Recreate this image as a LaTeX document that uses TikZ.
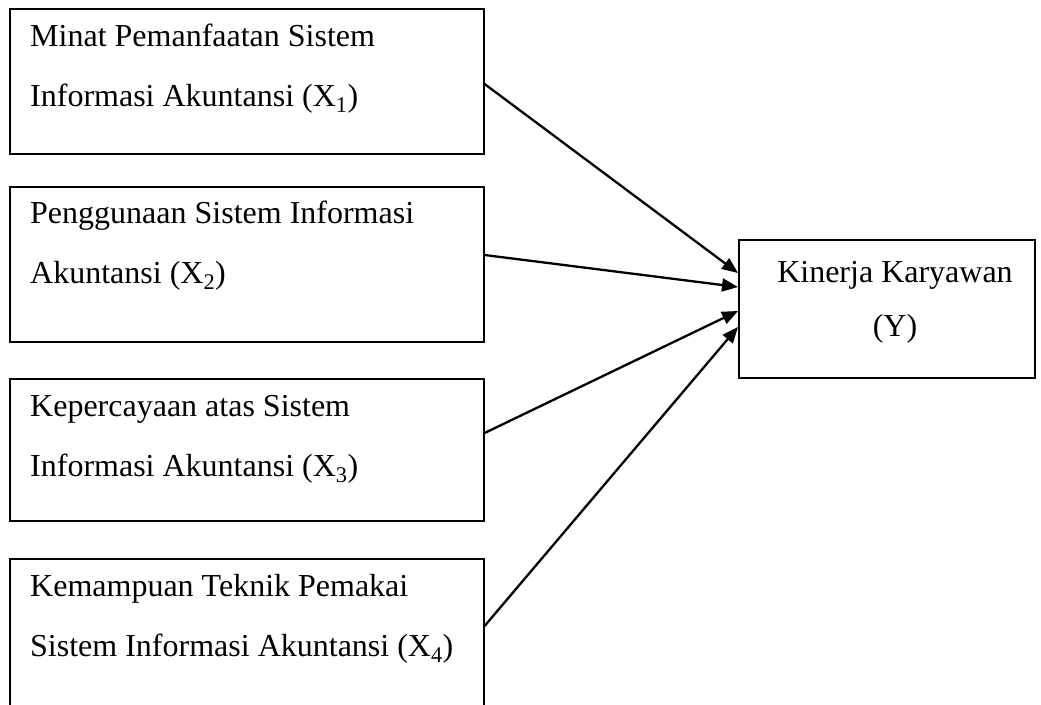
\documentclass[tikz,border=0pt]{standalone}
\usepackage{fontspec}
\setmainfont{Liberation Serif}
\usetikzlibrary{arrows.meta,calc}
\begin{document}
\begin{tikzpicture}[x=1pt,y=-1pt,
  box/.style={draw,line width=1.6pt,anchor=north west,inner sep=0pt},
  txt/.style={anchor=base west,inner sep=0pt,font=\fontsize{32}{38}\selectfont},
  ctxt/.style={anchor=base,inner sep=0pt,font=\fontsize{32}{38}\selectfont},
  arr/.style={line width=2.3pt,-{Triangle[length=16pt,width=13pt]}}]
\useasboundingbox (0,0) rectangle (1041,704);
\node[box,minimum width=474pt,minimum height=145pt] (b1) at (9,8) {};
\node[box,minimum width=474pt,minimum height=155pt] (b2) at (9,186) {};
\node[box,minimum width=474pt,minimum height=142pt] (b3) at (9,378) {};
\node[box,minimum width=474pt,minimum height=152pt] (b4) at (9,558) {};
\node[box,minimum width=296pt,minimum height=138pt] (y) at (738,239) {};
% texts
\node[txt] (t11) at ($(b1.north west)+(21,38)$) {Minat Pemanfaatan Sistem};
\node[txt] (t12) at ($(b1.north west)+(21,98)$) {Informasi Akuntansi (X\textsubscript{1})};
\node[txt] (t21) at ($(b2.north west)+(21,37)$) {Penggunaan Sistem Informasi};
\node[txt] (t22) at ($(b2.north west)+(21,97)$) {Akuntansi (X\textsubscript{2})};
\node[txt] (t31) at ($(b3.north west)+(21,38)$) {Kepercayaan atas Sistem};
\node[txt] (t32) at ($(b3.north west)+(21,98)$) {Informasi Akuntansi (X\textsubscript{3})};
\node[txt] (t41) at ($(b4.north west)+(21,38)$) {Kemampuan Teknik Pemakai};
\node[txt] (t42) at ($(b4.north west)+(21,98)$) {Sistem Informasi Akuntansi (X\textsubscript{4})};
\node[ctxt] (ty1) at ($(y.north west)+(157,43)$) {Kinerja Karyawan};
\node[ctxt] (ty2) at ($(y.north west)+(157,97)$) {(Y)};
% arrows
\draw[arr] ($(b1.north east)+(0,76)$) -- ($(y.north west)+(0,34)$);
\draw[arr] ($(b2.north east)+(0,69)$) -- ($(y.north west)+(0,48)$);
\draw[arr] ($(b3.north east)+(0,55)$) -- ($(y.north west)+(0,72)$);
\draw[arr] ($(b4.north east)+(0,68)$) -- ($(y.north west)+(0,88)$);
\end{tikzpicture}
\end{document}
